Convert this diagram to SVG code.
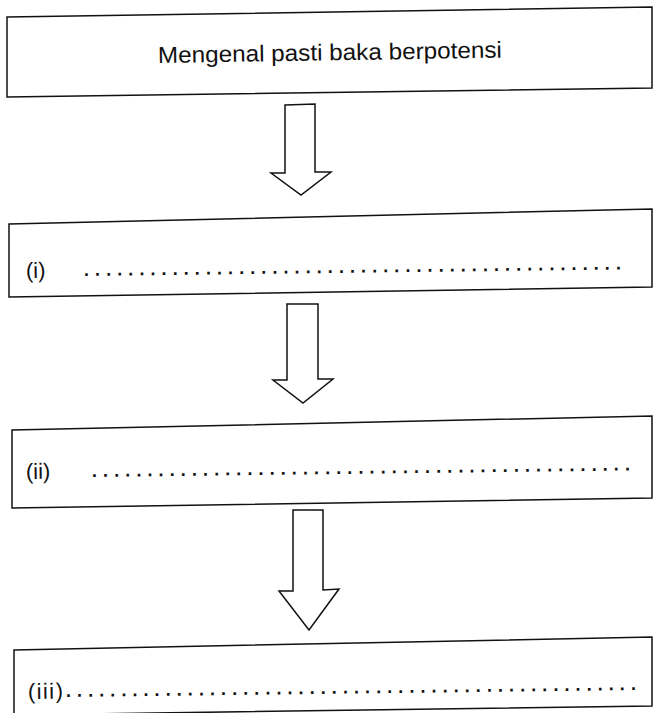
<svg xmlns="http://www.w3.org/2000/svg" width="653" height="713" viewBox="0 0 653 713">
<style>
.box{fill:none;stroke:#111;stroke-width:1.5;stroke-linejoin:miter}
.arrow{fill:#fff;stroke:#111;stroke-width:1.5;stroke-linejoin:miter}
.t{font-family:"Liberation Sans",Arial,sans-serif;fill:#111}
.title{font-size:23px}
.lbl{font-size:22px}
.dots{font-size:18px;font-weight:bold}
</style>
<rect width="653" height="713" fill="#fff"/>
<g id="node1">
<polygon class="box" points="7,17 652,7 652,88 7,97"/>
<text class="t title" x="158" y="63" transform="rotate(-0.9 158 63)" textLength="344" lengthAdjust="spacingAndGlyphs">Mengenal pasti baka berpotensi</text>
</g>
<g id="node2">
<polygon class="box" points="9,224 652,209 652,287 9,297"/>
<text class="t lbl" x="26" y="278" transform="rotate(-0.8 26 278)">(i)</text>
<text class="t dots" x="84" y="276" transform="rotate(-0.7 84 276)" textLength="537" lengthAdjust="spacing">.................................................</text>
</g>
<g id="node3">
<polygon class="box" points="12,430 652,416 652,498 12,508"/>
<text class="t lbl" x="26" y="479" transform="rotate(-0.8 26 479)">(ii)</text>
<text class="t dots" x="92" y="477" transform="rotate(-0.7 92 477)" textLength="538" lengthAdjust="spacing">.................................................</text>
</g>
<g id="node4">
<polygon class="box" points="14,650 652,637 652,706 14,715"/>
<text class="t lbl" x="28" y="699" transform="rotate(-0.8 28 699)" textLength="35" lengthAdjust="spacing">(iii)</text>
<text class="t dots" x="66" y="697" transform="rotate(-0.7 66 697)" textLength="570" lengthAdjust="spacing">....................................................</text>
</g>
<g id="connectors">
<polygon class="arrow" points="285,105 315,104 315,172 331,172 301,195 271,173 285,173"/>
<polygon class="arrow" points="287,304 318,304 318,379 333,379 303,403 273,380 287,380"/>
<polygon class="arrow" points="293,510 323,510 323,590 339,589 309,630 279,591 293,591"/>
</g>
</svg>
